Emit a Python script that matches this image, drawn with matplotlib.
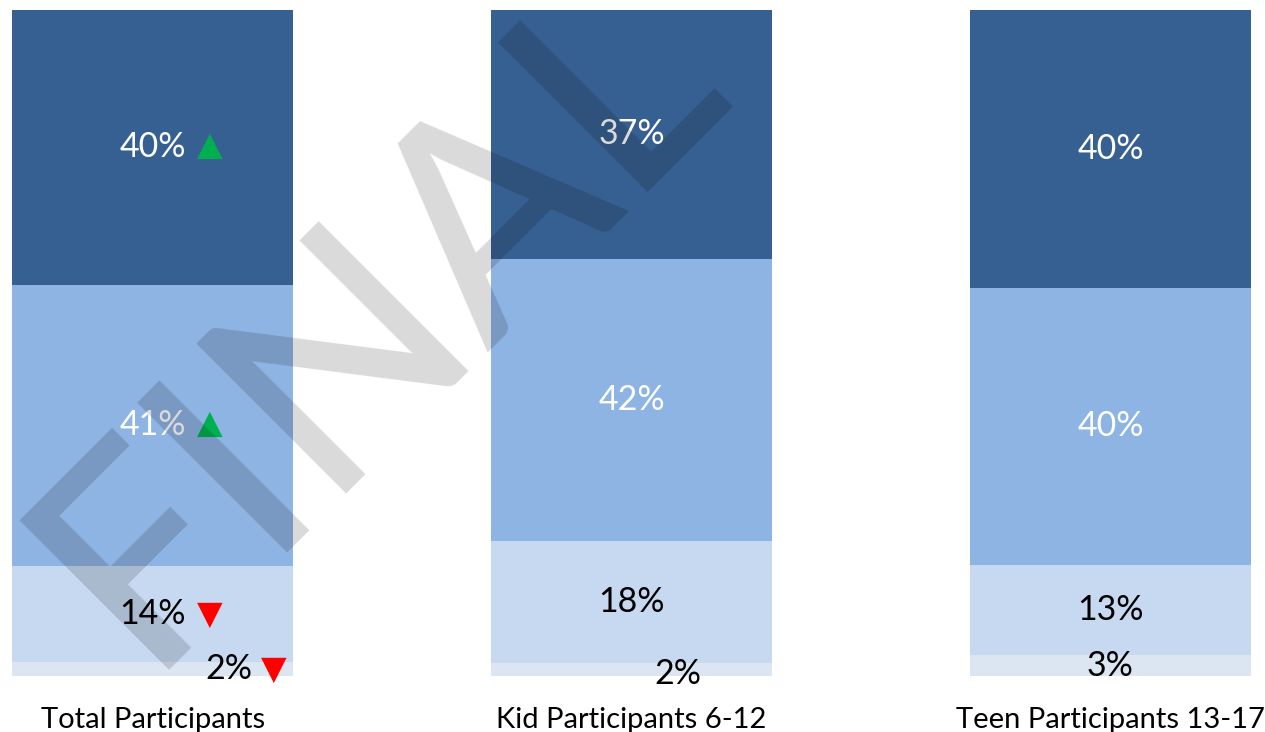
import matplotlib.pyplot as plt
import numpy as np
from matplotlib.transforms import offset_copy

plt.rcParams['font.family'] = ['Lato', 'DejaVu Sans']

categories = ["Total Participants", "Kid Participants 6-12", "Teen Participants 13-17"]
# segments from bottom to top
seg1 = [2, 2, 3]
seg2 = [14, 18, 13]
seg3 = [41, 42, 40]
seg4 = [40, 37, 40]
# trend arrows only on the total bar (bottom -> top)
total_trend = ["down", "down", "up", "up"]

colors = ["#DCE6F2", "#C6D9F1", "#8EB4E3", "#376092"]
text_colors = ["black", "black", "white", "white"]

segs = np.array([seg1, seg2, seg3, seg4], dtype=float)
shares = segs / segs.sum(axis=0) * 100

fig = plt.figure(figsize=(12.65, 7.32), dpi=100)
ax = fig.add_axes([12 / 1265, 56 / 732, 1239 / 1265, 666 / 732])

x = np.arange(len(categories))
w = 0.587
bottom = np.zeros(len(categories))
for i in range(4):
    ax.bar(x, shares[i], w, bottom=bottom, color=colors[i], linewidth=0)
    mids = bottom + shares[i] / 2
    for j in range(len(categories)):
        dx, dy = 0, 0
        if i == 0:
            dx, dy = [(76, 0), (46, -5), (0, 0)][j]
        t = offset_copy(ax.transData, fig=fig, x=dx, y=dy, units='dots')
        ax.text(x[j], mids[j], f"{int(segs[i, j])}%", transform=t,
                ha='center', va='center', fontsize=24.5, color=text_colors[i])
        if j == 0:
            up = total_trend[i] == "up"
            tx = 57 if i > 0 else 121
            t2 = offset_copy(ax.transData, fig=fig, x=tx, y=dy + (2 if up else 0), units='dots')
            ax.text(x[j], mids[j], "▲" if up else "▼", transform=t2,
                    ha='center', va='center', fontsize=24,
                    color="#00B050" if up else "#FF0000", family='DejaVu Sans')
    bottom += shares[i]

ax.set_xlim(-w / 2, 2 + w / 2)
ax.set_ylim(0, 100)
ax.set_xticks(x)
ax.set_xticklabels(categories, fontsize=21)
ax.tick_params(axis='x', length=0, pad=22.5)
ax.set_yticks([])
for s in ax.spines.values():
    s.set_visible(False)

# watermark
fig.text(377 / 1265, 1 - 318 / 732, "FINAL", rotation=45, fontsize=212,
         color='black', alpha=0.15, ha='center', va='center', weight='medium',
         rotation_mode='anchor', zorder=10)

fig.savefig("out.png", dpi=100)
